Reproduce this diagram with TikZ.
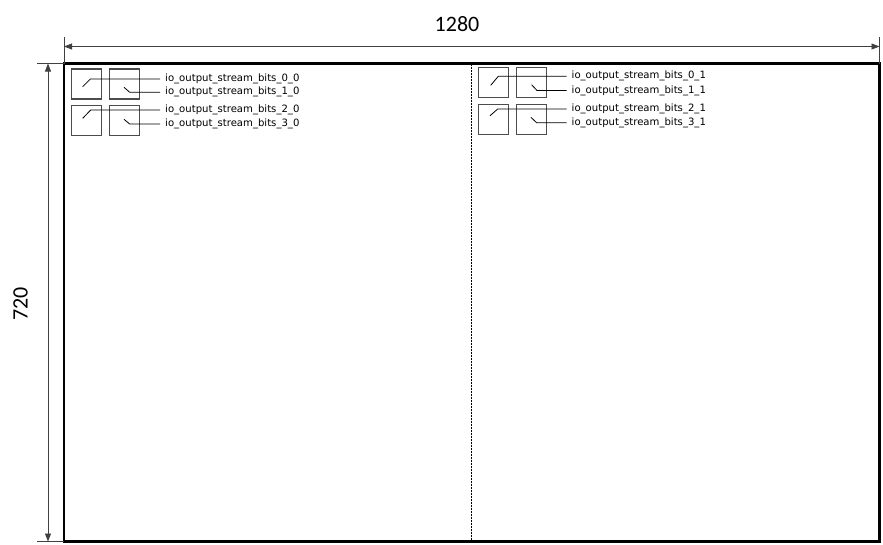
\documentclass[tikz,border=0pt]{standalone}
\usepackage{fontspec}
\setmainfont{DejaVu Sans}
\newfontfamily\dimfont{Carlito}
\usepackage{tikz}
\usetikzlibrary{arrows.meta}
\usetikzlibrary{positioning}

\tikzset{
  screen/.style={draw, line width=2.4pt, inner sep=0pt, outer sep=0pt,
                 minimum width=815.5pt, minimum height=478pt},
  divider/.style={line width=0.9pt, dash pattern=on 2pt off 1pt},
  extline/.style={draw=black!75, line width=0.8pt},
  dimline/.style={draw=black!75, line width=0.8pt,
                  {Triangle[length=8pt,width=6pt]}-{Triangle[length=8pt,width=6pt]}},
  dimlabel/.style={font=\dimfont\fontsize{22}{26}\selectfont, inner sep=0pt},
  bitbox/.style={draw=black!70, line width=1.2pt, inner sep=0pt, outer sep=0pt,
                 minimum size=30pt},
  bitlabel/.style={font=\fontsize{10.1}{12}\selectfont, inner xsep=5pt,
                   inner ysep=1pt, anchor=west},
  wire/.style={line width=0.8pt}
}

\begin{document}
\begin{tikzpicture}[x=1pt,y=-1pt]
  \useasboundingbox (0,0) rectangle (883,544);

  \node[screen, anchor=north west] (screen) at (64,63.5) {};
  \draw[divider] (screen.north) -- (screen.south);

  % size of the screen
  \draw[extline] (screen.north west) -- ++(0,-27);
  \draw[extline] (screen.north east) -- ++(0,-27);
  \draw[dimline] ([yshift=17pt]screen.north west) -- ([yshift=17pt]screen.north east);
  \node[dimlabel] (wd) at (457,24) {1280};
  \draw[extline] (screen.north west) -- ++(-27,0);
  \draw[extline] (screen.south west) -- ++(-27,0);
  \draw[dimline] ([xshift=-16pt]screen.north west) -- ([xshift=-16pt]screen.south west);
  \node[dimlabel, rotate=90] (ht) at (20.5,304) {720};

  % left half
  \node[bitbox] (b00) at (86.5,84) {};
  \node[bitbox, right=8pt of b00] (b10) {};
  \node[bitbox, below=6.5pt of b00] (b20) {};
  \node[bitbox, right=8pt of b20] (b30) {};
  \node[bitlabel] (l00) at (160,79) {io\_output\_stream\_bits\_0\_0};
  \node[bitlabel] (l10) at (160,92.3) {io\_output\_stream\_bits\_1\_0};
  \node[bitlabel] (l20) at (160,110) {io\_output\_stream\_bits\_2\_0};
  \node[bitlabel] (l30) at (160,124) {io\_output\_stream\_bits\_3\_0};
  \draw[wire] ([shift={(-3.8,2.7)}]b00.center) -- ++(7.7,-7.7) -- (l00.west);
  \draw[wire] ([shift={(-0.5,3.3)}]b10.center) -- ++(5.7,5) -- (l10.west);
  \draw[wire] ([shift={(-3.8,-2.2)}]b20.center) -- ++(8,-8.3) -- (l20.west);
  \draw[wire] ([shift={(-0.5,-1.2)}]b30.center) -- ++(5.7,4.7) -- (l30.west);

  % right half
  \node[bitbox] (b01) at (493.2,82.3) {};
  \node[bitbox, right=8pt of b01] (b11) {};
  \node[bitbox, below=6.9pt of b01] (b21) {};
  \node[bitbox, right=8pt of b21] (b31) {};
  \node[bitlabel] (l01) at (566.5,76.3) {io\_output\_stream\_bits\_0\_1};
  \node[bitlabel] (l11) at (566.5,90.4) {io\_output\_stream\_bits\_1\_1};
  \node[bitlabel] (l21) at (566.5,109) {io\_output\_stream\_bits\_2\_1};
  \node[bitlabel] (l31) at (566.5,122.7) {io\_output\_stream\_bits\_3\_1};
  \draw[wire] ([shift={(-2.5,3)}]b01.center) -- ++(7.6,-9) -- (l01.west);
  \draw[wire] ([shift={(0.4,2.4)}]b11.center) -- ++(5.3,5.7) -- (l11.west);
  \draw[wire] ([shift={(-3.2,-3.5)}]b21.center) -- ++(7.7,-6.7) -- (l21.west);
  \draw[wire] ([shift={(-0.3,-1.9)}]b31.center) -- ++(5.7,5.4) -- (l31.west);
\end{tikzpicture}
\end{document}
